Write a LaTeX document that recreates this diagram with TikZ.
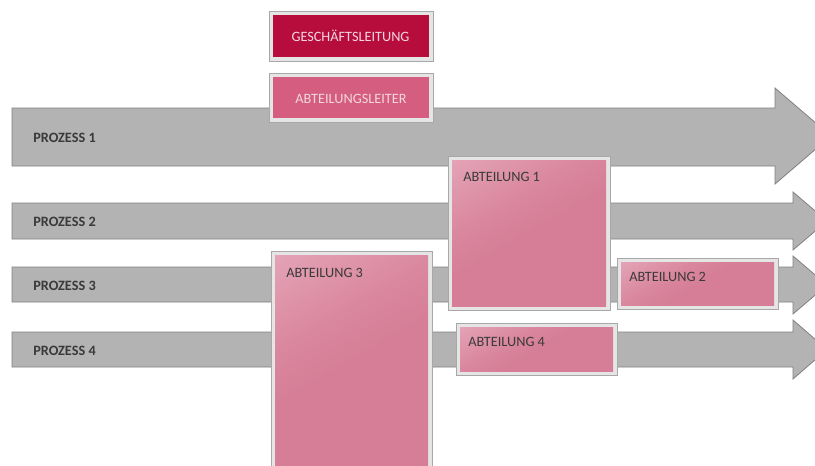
\documentclass[tikz,border=0pt]{standalone}
\usepackage{fontspec}
\setmainfont{Carlito}
\definecolor{pfeilgrau}{HTML}{B3B3B3}
\definecolor{pfeilrand}{HTML}{808080}
\definecolor{rahmenfill}{HTML}{E5E5E5}
\definecolor{rahmenrand}{HTML}{A8A8A8}
\definecolor{glrot}{HTML}{B70D3D}
\definecolor{alrosa}{HTML}{D45D80}
\definecolor{abthell}{HTML}{EBB7C7}
\definecolor{abtdunkel}{HTML}{D67E97}
\definecolor{schrifthell}{HTML}{F3D6DE}
\definecolor{schriftdunkel}{HTML}{3A3A3A}
\pgfdeclareverticalshading{abtverlauf}{100bp}{color(0bp)=(abtdunkel); color(50bp)=(abtdunkel); color(62bp)=(abtdunkel!85!abthell); color(100bp)=(abthell)}

\begin{document}
\begin{tikzpicture}[x=0.75pt,y=0.75pt,yscale=-1,xscale=1,
    pfeil/.style={fill=pfeilgrau, draw=pfeilrand, line width=0.6pt},
    rahmen/.style={fill=rahmenfill, draw=rahmenrand, line width=0.5pt},
    abteilung/.style={shading=abtverlauf, shading angle=30},
    prozesstext/.style={anchor=base west, inner sep=0pt, text=schriftdunkel, font=\fontsize{10.7}{12}\selectfont\bfseries},
    abttext/.style={anchor=base west, inner sep=0pt, text=schriftdunkel, font=\fontsize{10.7}{12}\selectfont},
    leitungstext/.style={anchor=base, inner sep=0pt, text=schrifthell, font=\fontsize{10.7}{12}\selectfont}]
    \useasboundingbox (0,0) rectangle (815,465);
    \clip (0,0) rectangle (815,465);
    
    %Shape: Arrow [Prozess 1]
    \draw [pfeil] (12,108) -- (775,108) -- (775,88) -- (831,136) -- (775,184) -- (775,166) -- (12,166) -- cycle ;
    %Shape: Arrow [Prozess 2]
    \draw [pfeil] (12,203) -- (793,203) -- (793,192) -- (827,221) -- (793,250) -- (793,239) -- (12,239) -- cycle ;
    %Shape: Arrow [Prozess 3]
    \draw [pfeil] (12,267) -- (793,267) -- (793,256) -- (827,285) -- (793,314) -- (793,302) -- (12,302) -- cycle ;
    %Shape: Arrow [Prozess 4]
    \draw [pfeil] (12,332) -- (793,332) -- (793,320) -- (827,349.5) -- (793,379) -- (793,367) -- (12,367) -- cycle ;
    
    %Shape: Rectangle [Geschaeftsleitung]
    \draw [rahmen] (269,11) rectangle (433,61) ;
    \fill [glrot] (273,15) rectangle (429,57) ;
    %Shape: Rectangle [Abteilungsleiter]
    \draw [rahmen] (269,73) rectangle (433,122) ;
    \fill [alrosa] (273,77) rectangle (429,118) ;
    %Shape: Rectangle [Abteilung 1]
    \draw [rahmen] (448,156) rectangle (610,310) ;
    \shade [abteilung] (452,160) rectangle (606,306) ;
    %Shape: Rectangle [Abteilung 2]
    \draw [rahmen] (617,258) rectangle (778,309) ;
    \shade [abteilung] (621,262) rectangle (774,305) ;
    %Shape: Rectangle [Abteilung 3]
    \draw [rahmen] (271,251) rectangle (432,472) ;
    \shade [abteilung] (275,255) rectangle (428,468) ;
    %Shape: Rectangle [Abteilung 4]
    \draw [rahmen] (456,323) rectangle (617,375) ;
    \shade [abteilung] (460,327) rectangle (613,371) ;
    
    % Text Node
    \node [prozesstext] (prozess1) at (33,142.7) {PROZESS 1};
    % Text Node
    \node [prozesstext] (prozess2) at (33,226.6) {PROZESS 2};
    % Text Node
    \node [prozesstext] (prozess3) at (33,290.6) {PROZESS 3};
    % Text Node
    \node [prozesstext] (prozess4) at (33,355) {PROZESS 4};
    % Text Node
    \node [leitungstext] (gl) at (350.5,41.6) {GESCHÄFTSLEITUNG};
    % Text Node
    \node [leitungstext] (al) at (351,103.2) {ABTEILUNGSLEITER};
    % Text Node
    \node [abttext] (abt1) at (463,181) {ABTEILUNG 1};
    % Text Node
    \node [abttext] (abt2) at (629,281) {ABTEILUNG 2};
    % Text Node
    \node [abttext] (abt3) at (286,277.3) {ABTEILUNG 3};
    % Text Node
    \node [abttext] (abt4) at (468,346.6) {ABTEILUNG 4};
\end{tikzpicture}
\end{document}
